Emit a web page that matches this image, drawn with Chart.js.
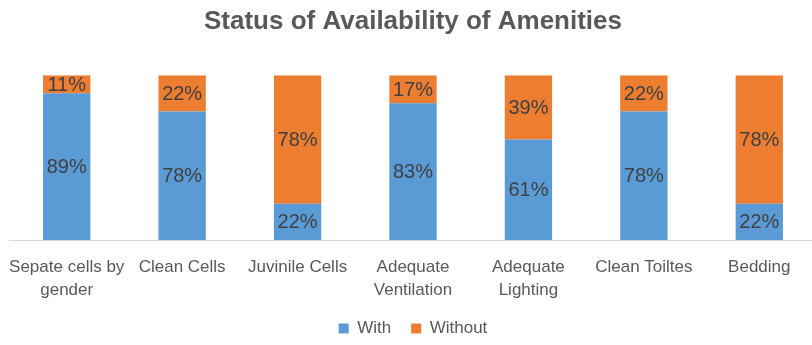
<!DOCTYPE html>
<html>
<head>
<meta charset="utf-8">
<script src="https://cdn.jsdelivr.net/npm/chart.js@4.4.0/dist/chart.umd.min.js"></script>
<style>
  html, body { margin: 0; padding: 0; background: #fff; overflow: hidden; }
  #wrap { width: 818px; height: 345px; position: relative; }
</style>
</head>
<body>
<div id="wrap"><canvas id="amenitiesChart"></canvas></div>
<script>
const categories = [
    ['Sepate cells by', 'gender'],
    'Clean Cells',
    'Juvinile Cells',
    ['Adequate', 'Ventilation'],
    ['Adequate', 'Lighting'],
    'Clean Toiltes',
    'Bedding'
];
const withValues = [89, 78, 22, 83, 61, 78, 22];
const withoutValues = [11, 22, 78, 17, 39, 22, 78];

const textFont = '"Liberation Sans", Arial, sans-serif';

// draws the % labels in the middle of each stacked segment
const segmentLabels = {
    id: 'segmentLabels',
    afterDatasetsDraw(chart) {
        const ctx = chart.ctx;
        ctx.save();
        ctx.font = '20px ' + textFont;
        ctx.fillStyle = '#404040';
        ctx.textAlign = 'center';
        ctx.textBaseline = 'middle';
        chart.data.datasets.forEach((ds, i) => {
            const meta = chart.getDatasetMeta(i);
            meta.data.forEach((bar, j) => {
                const p = bar.getProps(['x', 'y', 'base'], true);
                ctx.fillText(ds.data[j] + '%', p.x, (p.y + p.base) / 2 + 1);
            });
        });
        ctx.restore();
    }
};

new Chart(document.getElementById('amenitiesChart'), {
    type: 'bar',
    data: {
        labels: categories,
        datasets: [
            { label: 'With', data: withValues, backgroundColor: '#5B9BD5', barPercentage: 0.41, categoryPercentage: 1 },
            { label: 'Without', data: withoutValues, backgroundColor: '#ED7D31', barPercentage: 0.41, categoryPercentage: 1 }
        ]
    },
    plugins: [segmentLabels],
    options: {
        responsive: true,
        maintainAspectRatio: false,
        animation: false,
        layout: { padding: { left: 9, right: 1, top: 0, bottom: -2 } },
        plugins: {
            title: {
                display: true,
                text: 'Status of Availability of Amenities',
                color: '#595959',
                font: { family: textFont, size: 26, weight: 'bold' },
                padding: { top: 6, bottom: 38 }
            },
            legend: {
                position: 'bottom',
                labels: {
                    color: '#595959',
                    font: { family: textFont, size: 17 },
                    boxWidth: 10,
                    boxHeight: 10,
                    padding: 20
                }
            },
            tooltip: { enabled: false }
        },
        scales: {
            x: {
                stacked: true,
                grid: { display: false, drawTicks: false },
                border: { color: '#d9d9d9', width: 1 },
                ticks: {
                    color: '#595959',
                    font: { family: textFont, size: 17, lineHeight: 1.35 },
                    padding: 16,
                    autoSkip: false,
                    maxRotation: 0
                },
                afterFit(scale) {
                    scale.height = 60;
                    scale.paddingLeft = 0;
                    scale.paddingRight = 0;
                }
            },
            y: {
                stacked: true,
                display: false,
                min: 0,
                max: 100
            }
        }
    }
});
</script>
</body>
</html>
